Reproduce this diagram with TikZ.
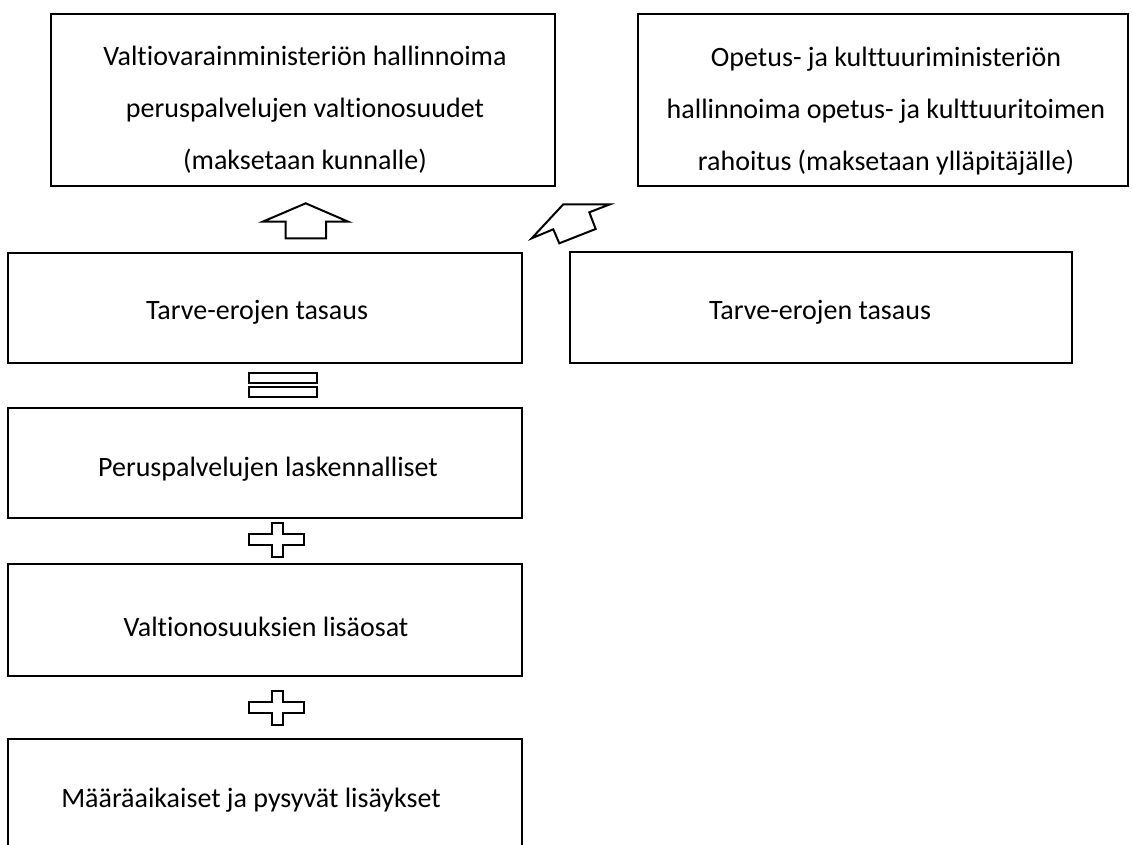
\documentclass[tikz,border=0pt]{standalone}
\usepackage{fontspec}
\setmainfont{Carlito}[Ligatures=NoCommon]

\tikzset{
  laatikko/.style={draw, line width=1.5pt, inner sep=0pt},
  teksti/.style={font=\fontsize{21}{39}\selectfont, align=center, inner sep=0pt},
  rivi/.style={teksti, anchor=base},
  nuoli/.style={draw, line width=1.5pt, line join=miter, fill=white},
}

\begin{document}
\begin{tikzpicture}[x=0.75pt,y=-0.75pt]
            \clip (0,0) rectangle (1132,844);
            \fill [white] (0,0) rectangle (1132,844);
            % ylarivi
            \node [laatikko, minimum width=378pt, minimum height=129pt] (valtio) at (303,100) {};
            \node [laatikko, minimum width=367.5pt, minimum height=129pt] (opetus) at (883,100) {};
            \node [teksti] (valtioteksti) at (305,110) {Valtiovarainministeriön hallinnoima\\peruspalvelujen valtionosuudet\\(maksetaan kunnalle)};
            \node [teksti] (opetusteksti) at (886,111) {Opetus- ja kulttuuriministeriön\\hallinnoima opetus- ja kulttuuritoimen\\rahoitus (maksetaan ylläpitäjälle)};
            % tasaukset
            \node [laatikko, minimum width=385.5pt, minimum height=82.5pt] (tasaus) at (265,308) {};
            \node [laatikko, minimum width=376.5pt, minimum height=83.25pt] (tasaus2) at (821,307.5) {};
            \node [rivi] (tasausteksti) at (257,319) {Tarve-erojen tasaus};
            \node [rivi] (tasaus2teksti) at (820,319) {Tarve-erojen tasaus};
            % vasen pino
            \node [laatikko, minimum width=385.5pt, minimum height=82.5pt] (laskennalliset) at (265,463) {};
            \node [laatikko, minimum width=385.5pt, minimum height=84pt] (lisaosat) at (265,620) {};
            \node [laatikko, minimum width=385.5pt, minimum height=82.5pt] (lisaykset) at (265,794) {};
            \node [rivi] (laskennallisetteksti) at (268,476) {Peruspalvelujen laskennalliset};
            \node [rivi] (lisaosatteksti) at (266,636) {Valtionosuuksien lisäosat};
            \node [rivi] (lisayksetteksti) at (251,807) {Määräaikaiset ja pysyvät lisäykset};
            % nuolet
            \draw [nuoli] (305.7,203.3) -- (348.3,221.7) -- (326,221.7) -- (326,238.3) -- (285.7,238.3) -- (285.7,221.7) -- (262.7,221.7) -- cycle;
            \draw [nuoli] (531.7,238.3) -- (563.3,204.3) -- (610,204.3) -- (589.3,212.3) -- (595.7,229) -- (559.3,243.3) -- (553.3,229.3) -- cycle;
            % yhtasuuruus
            \draw [nuoli] (249.3,373.3) rectangle (316.7,382.7);
            \draw [nuoli] (249.3,386.7) rectangle (316.7,396.7);
            % plussat
            \foreach \py in {523,691} {
              \draw [nuoli] (272.3,\py) -- (283.3,\py) -- (283.3,\py+11) -- (304,\py+11) -- (304,\py+22) -- (283.3,\py+22) -- (283.3,\py+33.7)
                -- (272.3,\py+33.7) -- (272.3,\py+22) -- (249.3,\py+22) -- (249.3,\py+11) -- (272.3,\py+11) -- cycle;
            }
        \end{tikzpicture}
\end{document}
